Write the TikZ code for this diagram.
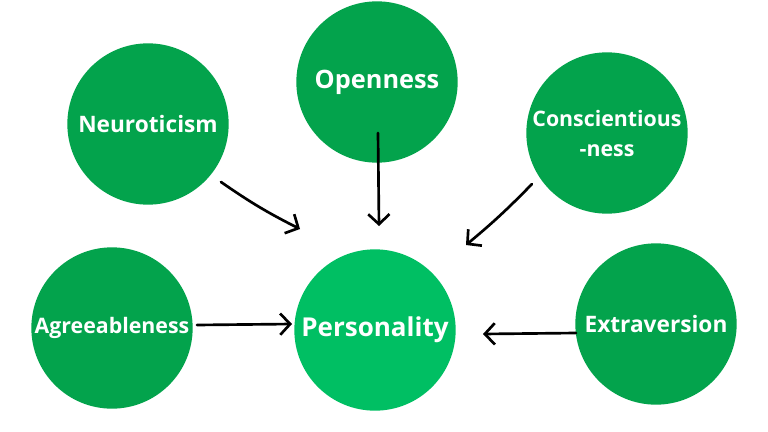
\documentclass[tikz,border=0pt]{standalone}
\usepackage{fontspec}
\setmainfont{Open Sans}
\usepackage{xcolor}
\usetikzlibrary{arrows.meta, calc}

\definecolor{traitgreen}{HTML}{03A34C}
\definecolor{coregreen}{HTML}{00BF63}

\begin{document}
\begin{tikzpicture}[
    x=0.75pt, y=-0.75pt,
    trait/.style={circle, fill=traitgreen, text=white, inner sep=0pt,
                  minimum size=121pt, align=center},
    core/.style={trait, fill=coregreen},
    arr/.style={-{Straight Barb[length=7.5pt, width=16pt]}, line width=2pt,
                line cap=round},
  ]
  \useasboundingbox (0,0) rectangle (768,432);

  \node[trait, font=\bfseries\fontsize{19}{22}\selectfont] (open) at (377,82) {Openness};
  \node[trait, font=\bfseries\fontsize{17}{21}\selectfont] (neuro) at (148,124) {Neuroticism};
  \node[trait, font=\bfseries\fontsize{16}{22.5}\selectfont] (consc) at (607,133)
    {Conscientious\\-ness};
  \node[trait, font=\bfseries\fontsize{16}{20}\selectfont] (agree) at (112,328) {Agreeableness};
  \node[trait, font=\bfseries\fontsize{17}{21}\selectfont] (extra) at (656,324) {Extraversion};
  \node[core, font=\bfseries\fontsize{19.5}{22}\selectfont] (pers) at (375,330) {Personality};

  \draw[arr] ($(neuro)+(73,58)$) to[bend right=4] ($(pers)+(-75,-101)$);
  \draw[arr] ($(open)+(1,51)$) -- ($(pers)+(4,-104)$);
  \draw[arr] ($(consc)+(-75,51)$) to[bend left=3] ($(pers)+(91,-85)$);
  \draw[arr] ($(agree)+(85,-3)$) -- ($(pers)+(-83,-6)$);
  \draw[arr] ($(extra)+(-80,9)$) -- ($(pers)+(108,4)$);
\end{tikzpicture}
\end{document}
